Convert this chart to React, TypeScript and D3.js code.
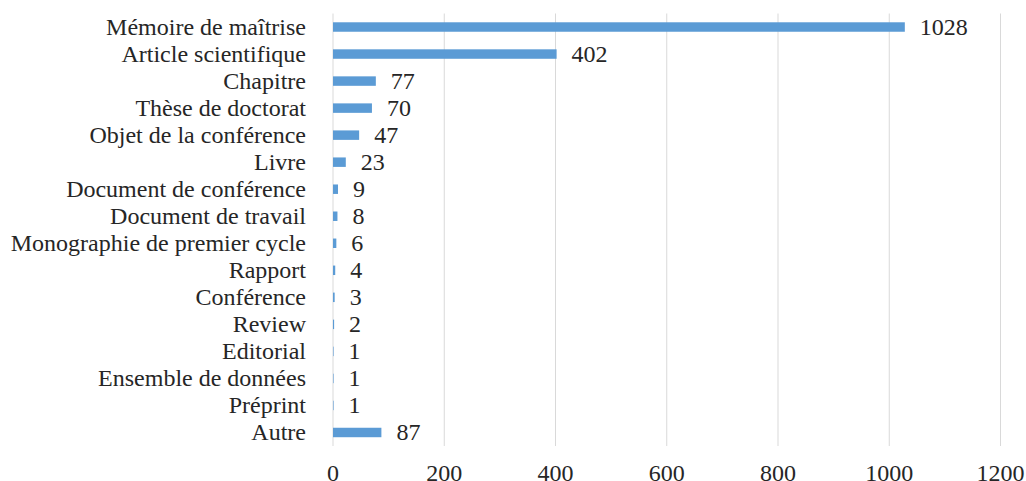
import React from "react";
import * as d3 from "d3";

const categories = [
  "Mémoire de maîtrise",
  "Article scientifique",
  "Chapitre",
  "Thèse de doctorat",
  "Objet de la conférence",
  "Livre",
  "Document de conférence",
  "Document de travail",
  "Monographie de premier cycle",
  "Rapport",
  "Conférence",
  "Review",
  "Editorial",
  "Ensemble de données",
  "Préprint",
  "Autre",
];
const values = [1028, 402, 77, 70, 47, 23, 9, 8, 6, 4, 3, 2, 1, 1, 1, 87];
const xTicks = [0, 200, 400, 600, 800, 1000, 1200];

const W = 1026;
const H = 481;
const left = 333;
const right = 1000.5;
const top = 13.5;
const bottom = 446;
const FONT = "'Liberation Serif', 'Times New Roman', serif";
const FS = 24;

export default function App() {
  const x = d3.scaleLinear().domain([0, 1200]).range([left, right]);
  const y = d3.scaleBand<string>().domain(categories).range([top, bottom]).paddingInner(0.65).paddingOuter(0.325);

  return (
    <svg width={W} height={H} style={{ position: "absolute", left: 0, top: 0 }}>
      <rect width={W} height={H} fill="#fff" />
      {xTicks.map((t) => (
        <line key={"g" + t} x1={x(t)} x2={x(t)} y1={top} y2={bottom} stroke="#d9d9d9" strokeWidth={1} />
      ))}
      {categories.map((c, i) => (
        <g key={c}>
          <rect
            x={x(0)}
            y={y(c)!}
            width={Math.max(0, x(values[i]) - x(0))}
            height={y.bandwidth()}
            fill="#5b9bd5"
          />
          <text
            x={left - 27}
            y={y(c)! + y.bandwidth() / 2}
            dy="0.33em"
            textAnchor="end"
            fontFamily={FONT}
            fontSize={FS}
            fill="#262626"
          >
            {c}
          </text>
          <text
            x={x(values[i]) + 15}
            y={y(c)! + y.bandwidth() / 2}
            dy="0.33em"
            textAnchor="start"
            fontFamily={FONT}
            fontSize={FS}
            fill="#262626"
          >
            {values[i]}
          </text>
        </g>
      ))}
      {xTicks.map((t) => (
        <text
          key={"t" + t}
          x={x(t)}
          y={481}
          textAnchor="middle"
          fontFamily={FONT}
          fontSize={FS}
          fill="#262626"
        >
          {t}
        </text>
      ))}
    </svg>
  );
}
